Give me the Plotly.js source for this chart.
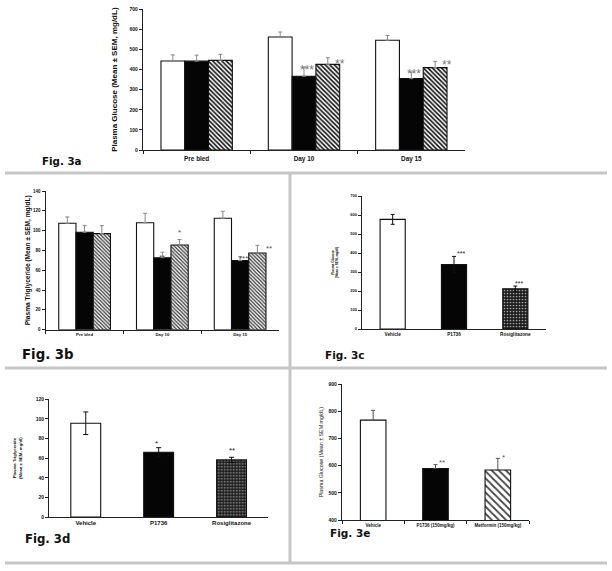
<!DOCTYPE html>
<html>
<head>
<meta charset="utf-8">
<script src="https://cdn.plot.ly/plotly-3.0.1.min.js"></script>
<style>html,body{margin:0;padding:0;background:#fff}#chart{width:612px;height:571px}</style>
</head>
<body>
<div id="chart"></div>
<script>
// ---------- DATA ----------
// Fig. 3a  Plasma glucose
const fig3aCategories = ['Pre bled', 'Day 10', 'Day 15'];
const fig3aVehicle = [443, 562, 546];
const fig3aVehicleErr = [30, 25, 24];
const fig3aP1736 = [442, 367, 355];
const fig3aP1736Err = [30, 45, 33];
const fig3aThird = [446, 426, 410];
const fig3aThirdErr = [30, 33, 31];
const fig3aP1736Sig = ['', '***', '***'];
const fig3aThirdSig = ['', '**', '**'];

// Fig. 3b  Plasma triglyceride
const fig3bCategories = ['Pre bled', 'Day 10', 'Day 15'];
const fig3bVehicle = [107.4, 108, 112.5];
const fig3bVehicleErr = [6.4, 9.5, 7];
const fig3bP1736 = [98.3, 72.7, 69.7];
const fig3bP1736Err = [7, 5.5, 4];
const fig3bThird = [97, 85.5, 77.4];
const fig3bThirdErr = [8, 5.5, 7.8];
const fig3bP1736Sig = ['', '**', '***'];
const fig3bThirdSig = ['', '*', '**'];

// Fig. 3c  Plasma glucose
const fig3cCategories = ['Vehicle', 'P1736', 'Rosiglitazone'];
const fig3cValues = [577, 339, 212];
const fig3cErr = [26, 43, 14];
const fig3cSig = ['', '***', '***'];

// Fig. 3d  Plasma triglyceride
const fig3dCategories = ['Vehicle', 'P1736', 'Rosiglitazone'];
const fig3dValues = [95.6, 66, 58.2];
const fig3dErr = [11.5, 4.7, 2.7];
const fig3dSig = ['', '*', '**'];

// Fig. 3e  Plasma glucose
const fig3eCategories = ['Vehicle', 'P1736 (150mg/kg)', 'Metformin (150mg/kg)'];
const fig3eValues = [768, 590, 584];
const fig3eErr = [36, 14, 43];
const fig3eSig = ['', '**', '*'];

// ---------- HELPERS ----------
const W = 612, H = 571;
const fx = p => p / W;
const fy = p => 1 - p / H;
const zeros = a => a.map(() => 0);
const TF = 'Liberation Sans, Arial, sans-serif';
const FIGF = 'DejaVu Sans, sans-serif';

function upErr(arr, color, width) {
  return {type: 'data', array: arr, symmetric: false, arrayminus: zeros(arr), color: color, thickness: 1, width: width, visible: true};
}
function bothErr(arr, color, width) {
  return {type: 'data', array: arr, symmetric: true, color: color, thickness: 1, width: width, visible: true};
}
const outline = {color: '#111', width: 1.1};

const traces = [];
// 3a
traces.push({type: 'bar', x: fig3aCategories, y: fig3aVehicle, xaxis: 'x', yaxis: 'y',
  marker: {color: '#fff', line: outline}, error_y: upErr(fig3aVehicleErr, '#888', 2)});
traces.push({type: 'bar', x: fig3aCategories, y: fig3aP1736, xaxis: 'x', yaxis: 'y',
  marker: {color: '#050505', line: outline}, error_y: upErr(fig3aP1736Err, '#888', 2)});
traces.push({type: 'bar', x: fig3aCategories, y: fig3aThird, xaxis: 'x', yaxis: 'y',
  marker: {color: '#fff', line: outline, pattern: {shape: '\\', fgcolor: '#111', bgcolor: '#fff', size: 3.2, solidity: 0.5}},
  error_y: upErr(fig3aThirdErr, '#888', 2)});
// 3b
traces.push({type: 'bar', x: fig3bCategories, y: fig3bVehicle, xaxis: 'x2', yaxis: 'y2',
  marker: {color: '#fff', line: outline}, error_y: upErr(fig3bVehicleErr, '#888', 2)});
traces.push({type: 'bar', x: fig3bCategories, y: fig3bP1736, xaxis: 'x2', yaxis: 'y2',
  marker: {color: '#050505', line: outline}, error_y: upErr(fig3bP1736Err, '#888', 2)});
traces.push({type: 'bar', x: fig3bCategories, y: fig3bThird, xaxis: 'x2', yaxis: 'y2',
  marker: {color: '#fff', line: outline, pattern: {shape: '\\', fgcolor: '#333', bgcolor: '#fff', size: 2.6, solidity: 0.45}},
  error_y: upErr(fig3bThirdErr, '#888', 2)});
// 3c
traces.push({type: 'bar', x: fig3cCategories, y: fig3cValues, xaxis: 'x3', yaxis: 'y3', width: 0.41, offset: -0.205,
  marker: {color: ['#fff', '#050505', '#1c1c1c'], line: outline,
    pattern: {shape: ['', '', '.'], fillmode: 'overlay', fgcolor: '#cfcfcf', fgopacity: 0.6, size: 3, solidity: 0.25}},
  error_y: bothErr(fig3cErr, '#111', 2)});
// 3d
traces.push({type: 'bar', x: fig3dCategories, y: fig3dValues, xaxis: 'x4', yaxis: 'y4', width: 0.41, offset: -0.205,
  marker: {color: ['#fff', '#050505', '#1c1c1c'], line: outline,
    pattern: {shape: ['', '', '.'], fillmode: 'overlay', fgcolor: '#cfcfcf', fgopacity: 0.6, size: 3, solidity: 0.25}},
  error_y: bothErr(fig3dErr, '#111', 2.5)});
// 3e
traces.push({type: 'bar', x: fig3eCategories, y: fig3eValues, xaxis: 'x5', yaxis: 'y5', width: 0.41, offset: -0.205,
  marker: {color: ['#fff', '#050505', '#fff'], line: outline,
    pattern: {shape: ['', '', '\\'], fillmode: 'overlay', fgcolor: '#111', fgopacity: 1, size: 5, solidity: 0.35}},
  error_y: upErr(fig3eErr, '#555', 2)});

// ---------- AXES ----------
function xAx(domain, anchor, fsize, ticks, standoff) {
  return {domain: domain, anchor: anchor, type: 'category', showline: true, linecolor: '#222', linewidth: 1.2,
    ticks: ticks ? 'outside' : '', tickson: 'boundaries', ticklen: 3, tickcolor: '#222', tickwidth: 1,
    ticklabelstandoff: standoff || 0,
    tickfont: {family: TF, size: fsize, color: '#111', weight: 'bold'}, showgrid: false, zeroline: false, fixedrange: true};
}
function yAx(domain, anchor, range, dtick, fsize, title, tsize, standoff, bold) {
  return {domain: domain, anchor: anchor, range: range, dtick: dtick, showline: true, linecolor: '#222', linewidth: 1.2,
    ticks: 'outside', ticklen: 3, tickcolor: '#222', tickwidth: 1,
    tickfont: {family: TF, size: fsize, color: '#111', weight: 'bold'}, showgrid: false, zeroline: false, fixedrange: true,
    title: {text: title, standoff: standoff, font: {family: TF, size: tsize, color: '#111', weight: bold ? 'bold' : 'normal'}}};
}

// ---------- ANNOTATIONS ----------
const annotations = [];
function star(xr, yr, x, y, text, dx, dyUp, size, color) {
  if (!text) return;
  annotations.push({xref: xr, yref: yr, x: x, y: y, text: text, showarrow: false, xanchor: 'center', yanchor: 'middle',
    xshift: dx, yshift: dyUp - 0.27 * size, font: {family: TF, size: size, color: color}});
}
const off3a = {p: [[0, 0], [3, 0], [3, 1]], t: [[0, 0], [35.5, -3], [35.5, 0]]};
fig3aCategories.forEach((c, i) => {
  star('x', 'y', c, fig3aP1736[i] + fig3aP1736Err[i], fig3aP1736Sig[i], off3a.p[i][0], off3a.p[i][1], 12, '#777');
  star('x', 'y', c, fig3aThird[i] + fig3aThirdErr[i], fig3aThirdSig[i], off3a.t[i][0], off3a.t[i][1], 12, '#777');
});
const off3b = {p: [[0, 0], [0, -2.7], [3, 0]], t: [[0, 0], [17.3, 9.6], [28.5, -0.6]]};
fig3bCategories.forEach((c, i) => {
  star('x2', 'y2', c, fig3bP1736[i] + fig3bP1736Err[i], fig3bP1736Sig[i], off3b.p[i][0], off3b.p[i][1], 8, '#555');
  star('x2', 'y2', c, fig3bThird[i] + fig3bThirdErr[i], fig3bThirdSig[i], off3b.t[i][0], off3b.t[i][1], 8, '#555');
});
const off3c = [[0, 0], [7, 4.7], [3.7, 4.3]];
fig3cCategories.forEach((c, i) => star('x3', 'y3', c, fig3cValues[i] + fig3cErr[i], fig3cSig[i], off3c[i][0], off3c[i][1], 7, '#222'));
const off3d = [[0, 0], [-2.3, 6.6], [0.6, 9]];
fig3dCategories.forEach((c, i) => star('x4', 'y4', c, fig3dValues[i] + fig3dErr[i], fig3dSig[i], off3d[i][0], off3d[i][1], 8, '#222'));
const off3e = [[0, 0], [6.3, 3.9], [5.2, 3.3]];
fig3eCategories.forEach((c, i) => star('x5', 'y5', c, fig3eValues[i] + fig3eErr[i], fig3eSig[i], off3e[i][0], off3e[i][1], 8, '#555'));

// figure labels
function figLabel(text, left, cy, size) {
  annotations.push({xref: 'paper', yref: 'paper', x: fx(left), y: fy(cy), text: text, showarrow: false,
    xanchor: 'left', yanchor: 'middle', font: {family: FIGF, size: size, color: '#111', weight: 'bold'}});
}
figLabel('Fig. 3a', 40, 160.5, 10.3);
figLabel('Fig. 3b', 20, 354, 13.3);
figLabel('Fig. 3c', 323, 354.5, 10.5);
figLabel('Fig. 3d', 23, 539, 11.7);
figLabel('Fig. 3e', 328, 533, 10.5);

// separator lines
const sepColor = '#c6c6c6';
const shapes = [
  {type: 'line', xref: 'paper', yref: 'paper', x0: fx(5), x1: fx(607), y0: fy(173), y1: fy(173), line: {color: sepColor, width: 3}},
  {type: 'line', xref: 'paper', yref: 'paper', x0: fx(5), x1: fx(607), y0: fy(368), y1: fy(368), line: {color: sepColor, width: 3}},
  {type: 'line', xref: 'paper', yref: 'paper', x0: fx(5), x1: fx(607), y0: fy(563), y1: fy(563), line: {color: sepColor, width: 3}},
  {type: 'line', xref: 'paper', yref: 'paper', x0: fx(290), x1: fx(290), y0: fy(173), y1: fy(563), line: {color: sepColor, width: 3}}
];

const layout = {
  width: W, height: H, margin: {l: 0, r: 0, t: 0, b: 0}, paper_bgcolor: '#fff', plot_bgcolor: 'rgba(0,0,0,0)',
  showlegend: false, barmode: 'group', bargap: 0.335, bargroupgap: 0,
  xaxis: xAx([fx(143), fx(465)], 'y', 6.4, true, 2),
  yaxis: yAx([fy(150), fy(9.3)], 'x', [0, 700], 100, 5, 'Plasma Glucose (Mean ± SEM, mg/dL)', 8, 10, true),
  xaxis2: xAx([fx(45.7), fx(279)], 'y2', 4.3, true),
  yaxis2: yAx([fy(329.7), fy(191)], 'x2', [0, 140], 20, 4.5, 'Plasma Triglyceride (Mean ± SEM, mg/dL)', 6.6, 1, true),
  xaxis3: xAx([fx(362), fx(546)], 'y3', 4.7, false),
  yaxis3: yAx([fy(329), fy(196)], 'x3', [0, 700], 100, 4, 'Plasma Glucose<br>(Mean ± SEM, mg/dl)', 3.2, 12, true),
  xaxis4: xAx([fx(49.3), fx(268)], 'y4', 6, false),
  yaxis4: yAx([fy(517), fy(399.3)], 'x4', [0, 120], 20, 5, 'Plasma Triglyceride<br>(Mean ± SEM, mg/dl)', 4.3, 13, true),
  xaxis5: xAx([fx(342), fx(529)], 'y5', 4.5, true),
  yaxis5: yAx([fy(520), fy(384.3)], 'x5', [400, 900], 100, 5, 'Plasma Glucose (Mean ± SEM mg/dL)', 5.3, 4, false),
  annotations: annotations,
  shapes: shapes
};

Plotly.newPlot('chart', traces, layout, {staticPlot: true, displayModeBar: false});
</script>
</body>
</html>
